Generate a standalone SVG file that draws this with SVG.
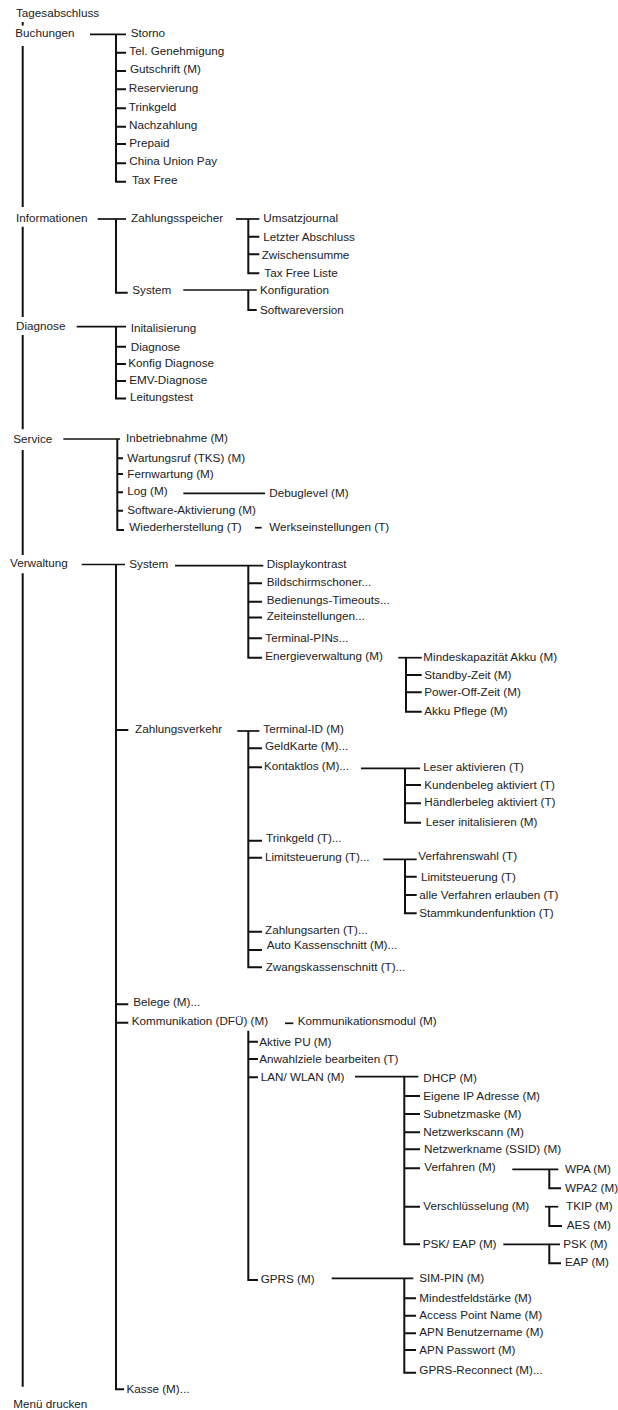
<svg xmlns="http://www.w3.org/2000/svg" width="618" height="1410" viewBox="0 0 618 1410">
<style>
text{font-family:"Liberation Sans",Arial,sans-serif;font-size:11.7px;fill:#222}
.c path{fill:none;stroke:#111;stroke-width:2}
.c .h{stroke-width:1.7}
</style>
<rect width="618" height="1410" fill="#fff"/>
<g class="c" id="connectors">
<path d="M22.7 22V25.5M22.7 46V207M22.7 226.7V317M22.7 335V429.3M22.7 450V555M22.7 573.3V1386.7"/>
<path class="h" d="M90 34.3H126"/>
<path d="M116 34.3V181.7H126M116 52.7H126M116 71H126M116 89.3H126M116 108.3H126M116 126.7H126M116 144H126M116 163.3H126"/>
<path class="h" d="M97.7 219H126"/>
<path d="M116 219V292.7H127.7"/>
<path class="h" d="M236 219H259.3"/>
<path d="M248.3 219V273.3H259.3M248.3 236.7H259.3M248.3 254.3H259.3"/>
<path class="h" d="M183.3 290H256.7"/>
<path d="M248.3 290V310H256.7"/>
<path class="h" d="M76.7 326.7H126"/>
<path d="M116 326.7V398.5H126M116 346.7H126M116 364H126M116 381H126"/>
<path class="h" d="M63.3 439H120"/>
<path d="M117.3 439V530H124M117.3 458.3H123M117.3 474H123M117.3 492.3H123M117.3 510.7H123"/>
<path class="h" d="M183.3 493.3H265"/>
<path class="h" d="M255 527.7H261.7"/>
<path class="h" d="M81.7 564.5H125"/>
<path d="M116 564.5V1389.3H124M116 730H128.3M116 1004.3H128.3M116 1022.7H128.3"/>
<path class="h" d="M175 565.7H263.3"/>
<path d="M248.3 565.7V657.7H262M248.3 583.3H262M248.3 601.7H262M248.3 617.5H262M248.3 638.3H262"/>
<path class="h" d="M398.3 657.7H421.7"/>
<path d="M406 657.7V711.7H421.7M406 675H421.7M406 692.3H421.7"/>
<path class="h" d="M237.3 731H259.3"/>
<path d="M248.3 731V967.3H262M248.3 748.3H262M248.3 767.3H262M248.3 840.7H262M248.3 857.7H262M248.3 931.7H262M248.3 950H262"/>
<path class="h" d="M361 768.3H420"/>
<path d="M405 768.3V822.7H421M405 785H421M405 803.3H421"/>
<path class="h" d="M383.3 859.3H416.7"/>
<path d="M405 859.3V913.3H416.7M405 876.7H416.7M405 895H416.7"/>
<path class="h" d="M285 1023.3H293.3"/>
<path d="M248.3 1030.7V1280H258M248.3 1041.7H258M248.3 1059H258M248.3 1077.3H258"/>
<path class="h" d="M355 1076.7H418.3"/>
<path d="M404.3 1076.7V1244.3H420M404.3 1096H420M404.3 1114H420M404.3 1132.3H420M404.3 1149.3H420M404.3 1168.3H420M404.3 1206.7H420"/>
<path class="h" d="M512.3 1169.3H558.3"/>
<path d="M549.3 1169.3V1188.3H561"/>
<path class="h" d="M545 1206.7H558.3"/>
<path d="M549.3 1206.7V1226H562"/>
<path class="h" d="M503.3 1244.3H560"/>
<path d="M549.3 1244.3V1263.3H561"/>
<path class="h" d="M331.7 1278.3H413.3"/>
<path d="M404.3 1278.3V1372.7H416M404.3 1298.3H416M404.3 1315.7H416M404.3 1333.3H416M404.3 1350H416"/>
</g>
<g id="n-tagesabschluss"><text x="16" y="17.3">Tagesabschluss</text></g>
<g id="n-buchungen"><text x="15.3" y="36.7">Buchungen</text></g>
<g id="n-storno"><text x="130.7" y="36.7">Storno</text></g>
<g id="n-telgen"><text x="129.3" y="55">Tel. Genehmigung</text></g>
<g id="n-gutschrift"><text x="130" y="73.3">Gutschrift (M)</text></g>
<g id="n-reservierung"><text x="128.7" y="91.5">Reservierung</text></g>
<g id="n-trinkgeld"><text x="128.7" y="110.7">Trinkgeld</text></g>
<g id="n-nachzahlung"><text x="129" y="129.3">Nachzahlung</text></g>
<g id="n-prepaid"><text x="129.3" y="146.7">Prepaid</text></g>
<g id="n-china"><text x="129.3" y="164.5">China Union Pay</text></g>
<g id="n-taxfree"><text x="132" y="184">Tax Free</text></g>
<g id="n-informationen"><text x="16" y="221.7">Informationen</text></g>
<g id="n-zahlungsspeicher"><text x="131" y="221.7">Zahlungsspeicher</text></g>
<g id="n-umsatzjournal"><text x="263.3" y="221.7">Umsatzjournal</text></g>
<g id="n-letzter"><text x="263.3" y="240.7">Letzter Abschluss</text></g>
<g id="n-zwischensumme"><text x="261.7" y="259">Zwischensumme</text></g>
<g id="n-taxfreeliste"><text x="264.3" y="277">Tax Free Liste</text></g>
<g id="n-infosystem"><text x="132.3" y="294.3">System</text></g>
<g id="n-konfiguration"><text x="260" y="294.3">Konfiguration</text></g>
<g id="n-softwareversion"><text x="260" y="314">Softwareversion</text></g>
<g id="n-diagnose"><text x="16" y="330">Diagnose</text></g>
<g id="n-initalisierung"><text x="130.7" y="331.7">Initalisierung</text></g>
<g id="n-diagnose2"><text x="130.7" y="350.7">Diagnose</text></g>
<g id="n-konfigdiag"><text x="128.3" y="367">Konfig Diagnose</text></g>
<g id="n-emv"><text x="129.3" y="384">EMV-Diagnose</text></g>
<g id="n-leitungstest"><text x="130" y="401">Leitungstest</text></g>
<g id="n-service"><text x="13.3" y="442.7">Service</text></g>
<g id="n-inbetrieb"><text x="126" y="442">Inbetriebnahme (M)</text></g>
<g id="n-wartungsruf"><text x="127.3" y="461.7">Wartungsruf (TKS) (M)</text></g>
<g id="n-fernwartung"><text x="127.3" y="477.7">Fernwartung (M)</text></g>
<g id="n-log"><text x="127.3" y="495">Log (M)</text></g>
<g id="n-debuglevel"><text x="269.3" y="496.5">Debuglevel (M)</text></g>
<g id="n-swakt"><text x="127.3" y="514">Software-Aktivierung (M)</text></g>
<g id="n-wiederherst"><text x="129.3" y="531">Wiederherstellung (T)</text></g>
<g id="n-werkseinst"><text x="269.3" y="531">Werkseinstellungen (T)</text></g>
<g id="n-verwaltung"><text x="10" y="567">Verwaltung</text></g>
<g id="n-vsystem"><text x="129.3" y="568.3">System</text></g>
<g id="n-displaykontrast"><text x="266.7" y="568.3">Displaykontrast</text></g>
<g id="n-bildschirm"><text x="266.7" y="585.5">Bildschirmschoner...</text></g>
<g id="n-bedienung"><text x="266.7" y="603.8">Bedienungs-Timeouts...</text></g>
<g id="n-zeiteinst"><text x="266.7" y="620">Zeiteinstellungen...</text></g>
<g id="n-termpins"><text x="265.3" y="641.7">Terminal-PINs...</text></g>
<g id="n-energie"><text x="265.3" y="659.5">Energieverwaltung (M)</text></g>
<g id="n-mindeskap"><text x="423.3" y="661">Mindeskapazität Akku (M)</text></g>
<g id="n-standby"><text x="424.3" y="678.5">Standby-Zeit (M)</text></g>
<g id="n-poweroff"><text x="424.3" y="695.5">Power-Off-Zeit (M)</text></g>
<g id="n-akkupflege"><text x="424.3" y="714.5">Akku Pflege (M)</text></g>
<g id="n-zahlungsverkehr"><text x="135" y="733">Zahlungsverkehr</text></g>
<g id="n-terminalid"><text x="263.3" y="733">Terminal-ID (M)</text></g>
<g id="n-geldkarte"><text x="265" y="750">GeldKarte (M)...</text></g>
<g id="n-kontaktlos"><text x="264" y="770">Kontaktlos (M)...</text></g>
<g id="n-leseraktiv"><text x="423.3" y="770.5">Leser aktivieren (T)</text></g>
<g id="n-kundenbeleg"><text x="424.3" y="788.5">Kundenbeleg aktiviert (T)</text></g>
<g id="n-haendlerbeleg"><text x="424.3" y="806.3">Händlerbeleg aktiviert (T)</text></g>
<g id="n-leserinit"><text x="425.7" y="826">Leser initalisieren (M)</text></g>
<g id="n-trinkgeldt"><text x="266" y="842">Trinkgeld (T)...</text></g>
<g id="n-limitst"><text x="265" y="860.5">Limitsteuerung (T)...</text></g>
<g id="n-verfahrenswahl"><text x="418.3" y="860">Verfahrenswahl (T)</text></g>
<g id="n-limitst2"><text x="421" y="880.7">Limitsteuerung  (T)</text></g>
<g id="n-alleverf"><text x="419.3" y="898.5">alle Verfahren erlauben (T)</text></g>
<g id="n-stammkunden"><text x="419.3" y="916.7">Stammkundenfunktion (T)</text></g>
<g id="n-zahlungsarten"><text x="265" y="934">Zahlungsarten (T)...</text></g>
<g id="n-autokasse"><text x="266.7" y="949">Auto Kassenschnitt (M)...</text></g>
<g id="n-zwangskasse"><text x="265.7" y="970.5">Zwangskassenschnitt (T)...</text></g>
<g id="n-belege"><text x="133.3" y="1006">Belege (M)...</text></g>
<g id="n-kommunikation"><text x="131.7" y="1024.5">Kommunikation (DFÜ)  (M)</text></g>
<g id="n-kommodul"><text x="297.7" y="1025">Kommunikationsmodul (M)</text></g>
<g id="n-aktivepu"><text x="259.3" y="1045.5">Aktive PU (M)</text></g>
<g id="n-anwahlziele"><text x="259.3" y="1063.3">Anwahlziele bearbeiten (T)</text></g>
<g id="n-lanwlan"><text x="260.7" y="1081">LAN/ WLAN (M)</text></g>
<g id="n-dhcp"><text x="423.3" y="1081.7">DHCP (M)</text></g>
<g id="n-eigeneip"><text x="423.3" y="1100">Eigene IP Adresse (M)</text></g>
<g id="n-subnetz"><text x="423.3" y="1118.3">Subnetzmaske (M)</text></g>
<g id="n-netzscan"><text x="423.3" y="1135.7">Netzwerkscann (M)</text></g>
<g id="n-netzname"><text x="424" y="1153.3">Netzwerkname (SSID) (M)</text></g>
<g id="n-verfahren"><text x="424.3" y="1170.5">Verfahren (M)</text></g>
<g id="n-wpa"><text x="565" y="1173.3">WPA (M)</text></g>
<g id="n-wpa2"><text x="565" y="1191.7">WPA2 (M)</text></g>
<g id="n-verschl"><text x="423.3" y="1210">Verschlüsselung (M)</text></g>
<g id="n-tkip"><text x="566" y="1209.5">TKIP (M)</text></g>
<g id="n-aes"><text x="566.7" y="1229">AES (M)</text></g>
<g id="n-pskeap"><text x="422.7" y="1247.7">PSK/ EAP (M)</text></g>
<g id="n-psk"><text x="563.3" y="1247.5">PSK (M)</text></g>
<g id="n-eap"><text x="565" y="1265.5">EAP (M)</text></g>
<g id="n-gprs"><text x="260.7" y="1283">GPRS (M)</text></g>
<g id="n-simpin"><text x="419.3" y="1281.5">SIM-PIN (M)</text></g>
<g id="n-mindestfeld"><text x="419.3" y="1301.7">Mindestfeldstärke (M)</text></g>
<g id="n-apname"><text x="419.3" y="1318.5">Access Point Name (M)</text></g>
<g id="n-apnuser"><text x="419.3" y="1336.3">APN Benutzername (M)</text></g>
<g id="n-apnpass"><text x="419.3" y="1353.5">APN Passwort (M)</text></g>
<g id="n-gprsrec"><text x="419.3" y="1374.3">GPRS-Reconnect (M)...</text></g>
<g id="n-kasse"><text x="126.5" y="1393">Kasse  (M)...</text></g>
<g id="n-menudrucken"><text x="13.3" y="1408.3">Menü drucken</text></g>
</svg>
